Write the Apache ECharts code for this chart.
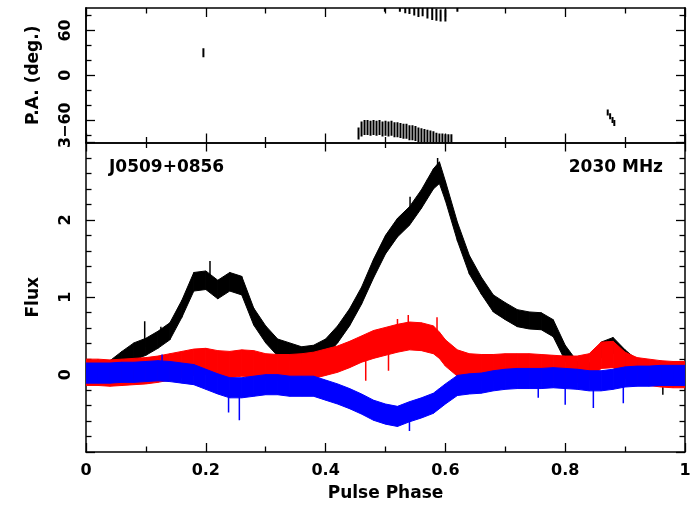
<!DOCTYPE html>
<html><head><meta charset="utf-8">
<script src="https://cdn.jsdelivr.net/npm/echarts@6/dist/echarts.min.js"></script>
<style>html,body{margin:0;padding:0;background:#fff}#c{width:700px;height:507px}</style>
</head><body><div id="c"></div>
<script>
// Pulse phase sample points
const phase = [0,0.02,0.04,0.06,0.08,0.10,0.12,0.14,0.16,0.18,0.20,0.22,0.24,0.26,0.28,0.30,0.32,0.34,0.36,0.38,0.40,0.42,0.44,0.46,0.48,0.50,0.52,0.54,0.56,0.58,0.59,0.60,0.62,0.64,0.66,0.68,0.70,0.72,0.74,0.76,0.78,0.80,0.82,0.84,0.86,0.88,0.90,0.92,0.94,0.96,0.98,1.00];
// Total intensity (black) noise envelope
const totalLo = [-0.07,-0.06,-0.02,0.10,0.19,0.25,0.34,0.45,0.74,1.08,1.10,0.98,1.08,1.03,0.64,0.41,0.24,0.19,0.14,0.16,0.24,0.41,0.63,0.91,1.25,1.56,1.78,1.93,2.15,2.40,2.47,2.25,1.73,1.30,1.04,0.81,0.71,0.62,0.59,0.58,0.49,0.18,-0.01,-0.04,0.22,0.28,0.12,0.01,-0.09,-0.13,-0.15,-0.13];
const totalHi = [0.11,0.12,0.18,0.30,0.41,0.47,0.56,0.67,0.96,1.32,1.34,1.22,1.32,1.27,0.86,0.63,0.46,0.41,0.36,0.38,0.46,0.63,0.85,1.13,1.49,1.80,2.02,2.17,2.39,2.66,2.75,2.50,1.97,1.54,1.26,1.03,0.93,0.84,0.81,0.80,0.71,0.38,0.17,0.14,0.42,0.48,0.32,0.19,0.09,0.05,0.03,0.05];
// Linear polarisation (red) noise envelope
const linearLo = [-0.14,-0.14,-0.15,-0.14,-0.13,-0.12,-0.10,-0.07,-0.04,-0.01,0.00,-0.03,-0.04,-0.02,-0.03,-0.07,-0.08,-0.08,-0.07,-0.05,-0.01,0.03,0.09,0.16,0.21,0.25,0.29,0.32,0.31,0.27,0.21,0.11,-0.02,-0.07,-0.08,-0.08,-0.07,-0.07,-0.07,-0.08,-0.09,-0.10,-0.10,-0.07,0.08,0.09,-0.05,-0.12,-0.14,-0.16,-0.17,-0.17];
const linearHi = [0.20,0.20,0.19,0.20,0.21,0.22,0.24,0.27,0.30,0.33,0.34,0.31,0.30,0.32,0.31,0.27,0.26,0.26,0.27,0.29,0.33,0.37,0.43,0.50,0.57,0.61,0.65,0.68,0.67,0.63,0.55,0.45,0.32,0.27,0.26,0.26,0.27,0.27,0.27,0.26,0.25,0.24,0.24,0.27,0.42,0.43,0.29,0.22,0.20,0.18,0.17,0.17];
// Circular polarisation (blue) noise envelope
const circLo = [-0.11,-0.11,-0.11,-0.10,-0.10,-0.09,-0.08,-0.09,-0.11,-0.13,-0.19,-0.25,-0.30,-0.30,-0.28,-0.26,-0.26,-0.28,-0.28,-0.28,-0.33,-0.38,-0.44,-0.51,-0.59,-0.64,-0.67,-0.61,-0.56,-0.50,-0.44,-0.38,-0.27,-0.25,-0.24,-0.21,-0.19,-0.18,-0.18,-0.18,-0.17,-0.18,-0.19,-0.21,-0.21,-0.19,-0.16,-0.15,-0.15,-0.14,-0.14,-0.14];
const circHi = [0.15,0.15,0.15,0.16,0.16,0.17,0.18,0.17,0.15,0.13,0.07,0.01,-0.04,-0.04,-0.02,0.00,0.00,-0.02,-0.02,-0.02,-0.07,-0.12,-0.18,-0.25,-0.33,-0.38,-0.41,-0.35,-0.30,-0.24,-0.18,-0.12,-0.01,0.01,0.02,0.05,0.07,0.08,0.08,0.08,0.09,0.08,0.07,0.05,0.05,0.07,0.10,0.11,0.11,0.12,0.12,0.12];
// Isolated noise spikes seen in the picture: [phase, from, to]
const totalSpikes = [[0.098,0.36,0.69],[0.207,1.2,1.47],[0.541,2.1,2.3],[0.587,2.6,2.8],[0.963,-0.1,-0.26],[0.125,0.4,0.62],[0.57,2.3,2.52]];
const linearSpikes = [[0.538,0.6,0.77],[0.586,0.55,0.74],[0.467,0.2,-0.08],[0.268,0.0,-0.08],[0.505,0.3,0.05],[0.52,0.55,0.72]];
const circSpikes = [[0.256,-0.2,-0.59],[0.238,-0.2,-0.49],[0.54,-0.55,-0.73],[0.847,-0.1,-0.43],[0.897,-0.1,-0.37],[0.8,-0.1,-0.39],[0.127,0.1,0.26],[0.755,-0.1,-0.3]];
// Position angle points: phase, PA (deg), error (deg)
const paPhase = [0.196,0.455,0.46,0.465,0.47,0.475,0.48,0.485,0.49,0.495,0.50,0.505,0.51,0.515,0.52,0.525,0.53,0.535,0.54,0.545,0.55,0.555,0.56,0.565,0.57,0.575,0.58,0.585,0.59,0.595,0.60,0.605,0.61,0.499,0.524,0.533,0.54,0.548,0.555,0.562,0.57,0.578,0.585,0.592,0.60,0.62,0.871,0.875,0.879,0.882];
const paValue = [30,-78,-72,-70,-70,-71,-70,-71,-70,-72,-71,-72,-71,-73,-73,-74,-75,-75,-77,-77,-78,-80,-81,-82,-83,-84,-85,-87,-88,-88,-89,-89,-89,88,88,87,86,85,84,85,83,82,81,80,80,88,-50,-55,-60,-64];
const paError = [6,8,10,10,10,10,10,10,10,10,10,10,10,10,10,10,10,10,10,10,10,10,10,10,10,10,10,10,10,10,10,10,10,3,3,4,4,5,6,6,7,8,8,8,8,3,4,4,4,4];
const paTicks = [-60,0,60];
const paMinor = [-80,-40,-20,20,40,80];
const fluxTicks = [0,1,2,3];

const FONT = 'DejaVu Sans';
const lab = {fontFamily:FONT,fontWeight:'bold',color:'#000'};
const fmt = v => String(v).replace('-', '\u2212');

function band(lo, hi, color){
  const rows = [];
  for (let i = 0; i < phase.length - 1; i++) rows.push([phase[i], lo[i], hi[i], phase[i+1], lo[i+1], hi[i+1]]);
  return {type:'custom', xAxisIndex:2, yAxisIndex:4, clip:true, silent:true, data:rows, z:3,
    renderItem:function(params, api){
      const p = [api.coord([api.value(0), api.value(1)]), api.coord([api.value(3), api.value(4)]),
                 api.coord([api.value(3), api.value(5)]), api.coord([api.value(0), api.value(2)])];
      return {type:'polygon', shape:{points:p}, style:{fill:color, stroke:color, lineWidth:1}};
    }};
}
function spikes(list, color){
  return {type:'custom', xAxisIndex:2, yAxisIndex:4, clip:true, silent:true, data:list, z:3,
    renderItem:function(params, api){
      const a = api.coord([api.value(0), api.value(1)]), b = api.coord([api.value(0), api.value(2)]);
      return {type:'line', shape:{x1:a[0],y1:a[1],x2:b[0],y2:b[1]}, style:{stroke:color, lineWidth:1.5}};
    }};
}

const axisLine = {show:true, onZero:false, lineStyle:{color:'#000', width:1.5}};
function xAx(grid, pos, labels){
  return {type:'value', gridIndex:grid, position:pos, min:0, max:1, interval:0.2,
    axisLine:axisLine, axisTick:{show:true, inside:true, length:9, lineStyle:{color:'#000',width:1.3}},
    minorTick:{show:true, splitNumber:2, length:5.5, lineStyle:{color:'#000',width:1.3}},
    splitLine:{show:false},
    axisLabel:{show:labels, ...lab, fontSize:16, margin:11},
    name: labels && pos==='bottom' ? 'Pulse Phase' : '', nameLocation:'middle', nameGap:33,
    nameTextStyle:{...lab, fontSize:17}};
}
function paAx(pos, labels, minor){
  return {type:'value', gridIndex:0, position:pos, min:-90, max:90,
    axisLine:axisLine,
    axisTick:{show:true, inside:true, length:minor?5.5:9, customValues:minor?paMinor:paTicks, lineStyle:{color:'#000',width:1.3}},
    splitLine:{show:false},
    axisLabel:{show:labels, ...lab, fontSize:16, rotate:90, margin:12, customValues:paTicks, formatter:fmt},
    name: labels ? 'P.A. (deg.)' : '', nameLocation:'middle', nameRotate:90, nameGap:44,
    nameTextStyle:{...lab, fontSize:17}};
}
function fluxAx(pos, labels){
  return {type:'value', gridIndex:1, position:pos, min:-1, max:3, interval:1,
    axisLine:axisLine,
    axisTick:{show:true, inside:true, length:9, lineStyle:{color:'#000',width:1.3}},
    minorTick:{show:true, splitNumber:5, length:5.5, lineStyle:{color:'#000',width:1.3}},
    splitLine:{show:false},
    axisLabel:{show:labels, ...lab, fontSize:16, rotate:90, margin:12, customValues:fluxTicks, formatter:fmt},
    name: labels ? 'Flux' : '', nameLocation:'middle', nameRotate:90, nameGap:44,
    nameTextStyle:{...lab, fontSize:17}};
}

const paData = paPhase.map((p,i)=>[p, paValue[i], paError[i]]);

const chart = echarts.init(document.getElementById('c'), null, {renderer:'canvas'});
chart.setOption({
  animation:false,
  backgroundColor:'#fff',
  grid:[
    {left:86, right:15, top:8, height:134.5},
    {left:86, right:15, top:142.5, height:311}
  ],
  xAxis:[xAx(0,'bottom',false), xAx(0,'top',false), xAx(1,'bottom',true), xAx(1,'top',false)],
  yAxis:[paAx('left',true,false), paAx('right',false,false), paAx('left',false,true), paAx('right',false,true),
         fluxAx('left',true), fluxAx('right',false)],
  series:[
    {type:'custom', xAxisIndex:0, yAxisIndex:0, clip:true, data:paData, silent:true,
     renderItem:function(params, api){
       const x = api.value(0), v = api.value(1), e = api.value(2);
       const a = api.coord([x, v-e]), b = api.coord([x, v+e]);
       return {type:'line', shape:{x1:a[0],y1:a[1],x2:b[0],y2:b[1]}, style:{stroke:'#000', lineWidth:2}};
     }},
    band(totalLo, totalHi, '#000000'), spikes(totalSpikes, '#000000'),
    band(linearLo, linearHi, '#ff0000'), spikes(linearSpikes, '#ff0000'),
    band(circLo, circHi, '#0000ff'), spikes(circSpikes, '#0000ff')
  ],
  graphic:[
    {type:'text', left:109, top:159, style:{text:'J0509+0856', font:'bold 17px "DejaVu Sans"', fill:'#000'}},
    {type:'text', right:37, top:159, style:{text:'2030 MHz', font:'bold 17px "DejaVu Sans"', fill:'#000'}}
  ]
});
</script></body></html>
